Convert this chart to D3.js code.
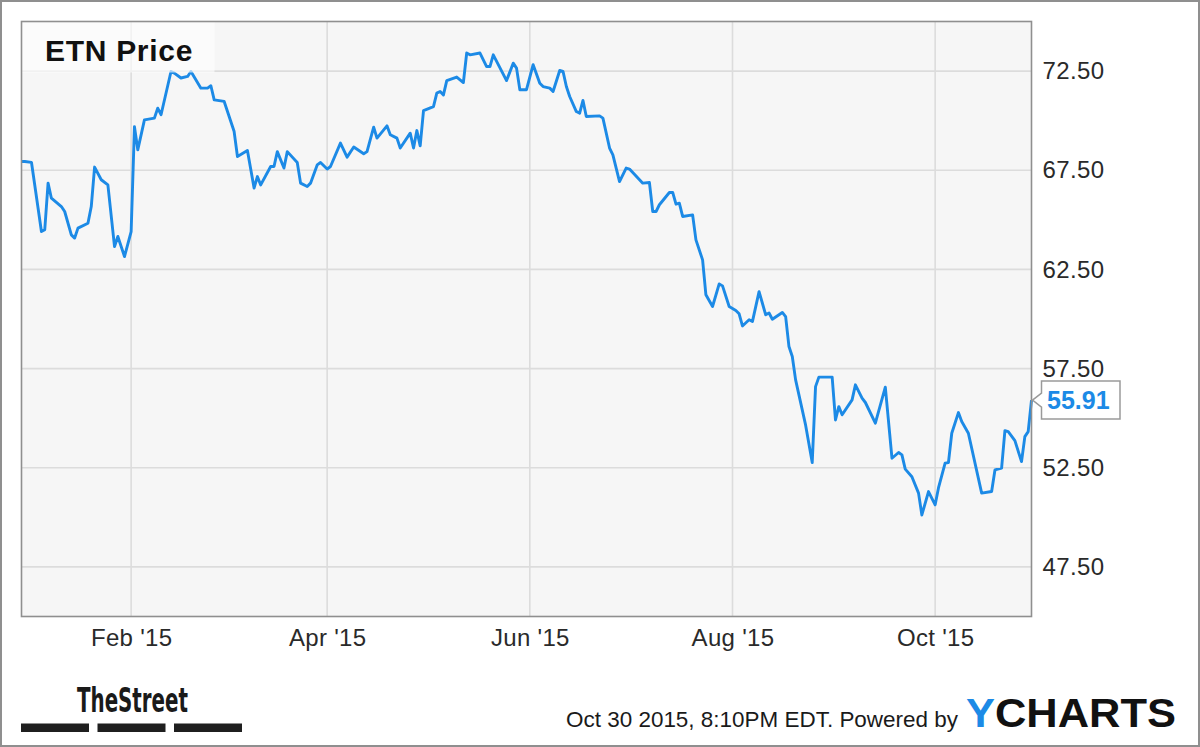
<!DOCTYPE html>
<html>
<head>
<meta charset="utf-8">
<script src="https://cdn.jsdelivr.net/npm/d3@7"></script>
<style>
  html, body { margin: 0; padding: 0; background: #fff; }
  svg { display: block; font-family: "Liberation Sans", Arial, sans-serif; }
</style>
</head>
<body>
<svg id="chart" width="1200" height="747"></svg>
<script>
// ETN closing prices
var dates = [
  '2014-12-30', '2014-12-31', '2015-01-02', '2015-01-05', '2015-01-06', '2015-01-07', '2015-01-08',
  '2015-01-11', '2015-01-12', '2015-01-14', '2015-01-15', '2015-01-16', '2015-01-19', '2015-01-20',
  '2015-01-21', '2015-01-23', '2015-01-25', '2015-01-27', '2015-01-28', '2015-01-30', '2015-02-01',
  '2015-02-02', '2015-02-03', '2015-02-05', '2015-02-08', '2015-02-09', '2015-02-10', '2015-02-13',
  '2015-02-14', '2015-02-16', '2015-02-18', '2015-02-19', '2015-02-22', '2015-02-24', '2015-02-25',
  '2015-02-26', '2015-03-01', '2015-03-04', '2015-03-05', '2015-03-08', '2015-03-10', '2015-03-11',
  '2015-03-12', '2015-03-15', '2015-03-16', '2015-03-17', '2015-03-19', '2015-03-20', '2015-03-23',
  '2015-03-24', '2015-03-26', '2015-03-27', '2015-03-29', '2015-03-30', '2015-04-01', '2015-04-02',
  '2015-04-05', '2015-04-07', '2015-04-09', '2015-04-12', '2015-04-13', '2015-04-15', '2015-04-16',
  '2015-04-19', '2015-04-20', '2015-04-22', '2015-04-23', '2015-04-26', '2015-04-27', '2015-04-28',
  '2015-04-29', '2015-04-30', '2015-05-03', '2015-05-04', '2015-05-05', '2015-05-06', '2015-05-07',
  '2015-05-10', '2015-05-12', '2015-05-13', '2015-05-14', '2015-05-17', '2015-05-19', '2015-05-20',
  '2015-05-21', '2015-05-25', '2015-05-27', '2015-05-28', '2015-05-29', '2015-05-31', '2015-06-02',
  '2015-06-04', '2015-06-05', '2015-06-07', '2015-06-08', '2015-06-10', '2015-06-11', '2015-06-12',
  '2015-06-13', '2015-06-15', '2015-06-16', '2015-06-17', '2015-06-18', '2015-06-22', '2015-06-23',
  '2015-06-25', '2015-06-26', '2015-06-28', '2015-06-30', '2015-07-01', '2015-07-05', '2015-07-07',
  '2015-07-08', '2015-07-09', '2015-07-10', '2015-07-13', '2015-07-14', '2015-07-15', '2015-07-16',
  '2015-07-17', '2015-07-20', '2015-07-21', '2015-07-23', '2015-07-24', '2015-07-26', '2015-07-28',
  '2015-07-29', '2015-07-31', '2015-08-02', '2015-08-03', '2015-08-04', '2015-08-06', '2015-08-07',
  '2015-08-09', '2015-08-11', '2015-08-12', '2015-08-13', '2015-08-16', '2015-08-17', '2015-08-18',
  '2015-08-19', '2015-08-20', '2015-08-23', '2015-08-25', '2015-08-26', '2015-08-27', '2015-08-31',
  '2015-09-01', '2015-09-02', '2015-09-03', '2015-09-06', '2015-09-07', '2015-09-09', '2015-09-10',
  '2015-09-13', '2015-09-16', '2015-09-18', '2015-09-20', '2015-09-21', '2015-09-22', '2015-09-24',
  '2015-09-26', '2015-09-27', '2015-09-29', '2015-10-01', '2015-10-02', '2015-10-04', '2015-10-05',
  '2015-10-06', '2015-10-08', '2015-10-09', '2015-10-11', '2015-10-15', '2015-10-18', '2015-10-19',
  '2015-10-21', '2015-10-22', '2015-10-23', '2015-10-25', '2015-10-27', '2015-10-28', '2015-10-29',
  '2015-10-30'
]
var prices = [
  67.94, 67.94, 67.90, 64.41, 64.50, 66.85, 66.09,
  65.67, 65.42, 64.24, 64.08, 64.58, 64.83, 65.67,
  67.66, 67.02, 66.76, 63.65, 64.16, 63.15, 64.41,
  69.70, 68.53, 70.04, 70.13, 70.63, 70.30, 72.48,
  72.40, 72.15, 72.23, 72.48, 71.64, 71.64, 71.76,
  71.05, 70.97, 69.45, 68.19, 68.49, 66.60, 67.18,
  66.76, 67.69, 67.69, 68.44, 67.61, 68.44, 67.89,
  66.85, 66.68, 66.85, 67.77, 67.89, 67.56, 67.69,
  68.87, 68.16, 68.67, 68.33, 68.44, 69.67, 69.12,
  69.74, 69.29, 69.12, 68.62, 69.37, 68.62, 69.50,
  68.73, 70.51, 70.71, 71.39, 71.47, 71.30, 72.02,
  72.20, 71.92, 73.41, 73.32, 73.41, 72.73, 72.73,
  73.32, 72.02, 72.90, 72.65, 71.56, 71.56, 72.82,
  71.89, 71.72, 71.64, 71.47, 72.53, 72.48, 71.72,
  71.22, 70.46, 70.38, 71.02, 70.21, 70.24, 70.13,
  68.62, 68.28, 66.93, 67.61, 67.56, 66.85, 66.88,
  65.42, 65.42, 65.76, 66.38, 66.38, 65.79, 65.84,
  65.17, 65.25, 63.99, 62.98, 61.22, 60.63, 61.77,
  61.67, 60.63, 60.43, 60.26, 59.65, 59.96, 59.87,
  61.38, 60.21, 60.30, 59.99, 60.33, 60.12, 58.61,
  58.11, 56.93, 54.66, 52.76, 56.59, 57.07, 57.07,
  54.91, 55.58, 55.17, 55.92, 56.68, 56.01, 55.79,
  54.75, 56.56, 52.98, 53.27, 53.15, 52.43, 52.05,
  51.22, 50.12, 51.30, 50.63, 51.48, 52.73, 52.76,
  54.24, 55.28, 54.83, 54.24, 51.22, 51.30, 52.39,
  52.48, 54.37, 54.32, 53.87, 52.81, 54.07, 54.32,
  55.91
]
var yTicks = [47.5, 52.5, 57.5, 62.5, 67.5, 72.5]
var xTickMonths = ['2015-02-01', '2015-04-01', '2015-06-01', '2015-08-01', '2015-10-01']
var title = 'ETN Price'
var stamp = 'Oct 30 2015, 8:10PM EDT.  Powered by'

var colorLine = '#1c8ae6'
var colorPlot = '#f6f6f6'
var colorGrid = '#dcdcdc'
var colorFrame = '#8f8f8f'

var W = 1200, H = 747
var plot = { left: 21.5, top: 21.5, right: 1031.5, bottom: 616.5 }

var parse = d3.timeParse('%Y-%m-%d')
var data = dates.map(function (d, i) {
    return { date: parse(d), value: prices[i] }
})

var svg = d3.select('#chart')

var x = d3.scaleTime()
    .domain([parse('2014-12-30'), parse('2015-10-30')])
    .range([plot.left, plot.right])
var y = d3.scaleLinear()
    .domain([45, 75])
    .range([plot.bottom, plot.top])

// outer frame
svg.append('rect')
    .attr('x', 1).attr('y', 1)
    .attr('width', W - 2).attr('height', H - 2)
    .attr('fill', '#fff')
    .attr('stroke', colorFrame)
    .attr('stroke-width', 2)

// plot background
svg.append('rect')
    .attr('x', plot.left).attr('y', plot.top)
    .attr('width', plot.right - plot.left).attr('height', plot.bottom - plot.top)
    .attr('fill', colorPlot)

// grid
var xTicks = xTickMonths.map(parse)
svg.append('g').selectAll('line')
    .data(yTicks)
    .join('line')
    .attr('x1', plot.left).attr('x2', plot.right)
    .attr('y1', function (d) { return y(d) }).attr('y2', function (d) { return y(d) })
    .attr('stroke', colorGrid).attr('stroke-width', 1.6)
svg.append('g').selectAll('line')
    .data(xTicks)
    .join('line')
    .attr('y1', plot.top).attr('y2', plot.bottom)
    .attr('x1', function (d) { return x(d) }).attr('x2', function (d) { return x(d) })
    .attr('stroke', colorGrid).attr('stroke-width', 1.6)

// price line
var line = d3.line()
    .x(function (d) { return x(d.date) })
    .y(function (d) { return y(d.value) })
svg.append('path')
    .datum(data)
    .attr('d', line)
    .attr('fill', 'none')
    .attr('stroke', colorLine)
    .attr('stroke-width', 2.9)
    .attr('stroke-linejoin', 'round')

// title box (semi transparent, sits over the line)
svg.append('rect')
    .attr('x', plot.left).attr('y', plot.top)
    .attr('width', 193).attr('height', 51)
    .attr('fill', '#fff').attr('fill-opacity', 0.6)
svg.append('text')
    .attr('x', 45).attr('y', 60.5)
    .attr('font-size', 30).attr('font-weight', 'bold')
    .attr('letter-spacing', 0.7)
    .attr('fill', '#111')
    .text(title)

// plot frame
svg.append('rect')
    .attr('x', plot.left).attr('y', plot.top)
    .attr('width', plot.right - plot.left).attr('height', plot.bottom - plot.top)
    .attr('fill', 'none')
    .attr('stroke', colorFrame).attr('stroke-width', 1.6)

// y axis labels on the right
var yAxis = svg.append('g')
    .attr('transform', 'translate(' + plot.right + ',0)')
    .call(d3.axisRight(y).tickValues(yTicks).tickFormat(d3.format('.2f')).tickSize(0).tickPadding(11))
yAxis.select('.domain').remove()
yAxis.selectAll('text')
    .attr('font-size', 24).attr('font-family', '"Liberation Sans", Arial, sans-serif')
    .attr('letter-spacing', 0.4)
    .attr('fill', '#2a2a2a')

// x axis labels
var xAxis = svg.append('g')
    .attr('transform', 'translate(0,' + plot.bottom + ')')
    .call(d3.axisBottom(x).tickValues(xTicks).tickFormat(d3.timeFormat("%b '%y")).tickSize(0).tickPadding(12))
xAxis.select('.domain').remove()
xAxis.selectAll('text')
    .attr('font-size', 24).attr('font-family', '"Liberation Sans", Arial, sans-serif')
    .attr('letter-spacing', 0.3)
    .attr('fill', '#2a2a2a')

// last price callout
var last = data[data.length - 1]
var ly = y(last.value)
var bx0 = 1041.5, bx1 = 1120, bh = 38
var callout = d3.path()
callout.moveTo(plot.right + 1, ly)
callout.lineTo(bx0, ly - 7)
callout.lineTo(bx0, ly - bh / 2)
callout.lineTo(bx1, ly - bh / 2)
callout.lineTo(bx1, ly + bh / 2)
callout.lineTo(bx0, ly + bh / 2)
callout.lineTo(bx0, ly + 7)
callout.closePath()
svg.append('path')
    .attr('d', callout.toString())
    .attr('fill', '#fff')
    .attr('stroke', '#9a9a9a')
    .attr('stroke-width', 1.5)
svg.append('text')
    .attr('x', 1047).attr('y', ly + 9)
    .attr('font-size', 25).attr('font-weight', 'bold')
    .attr('fill', colorLine)
    .text(d3.format('.2f')(last.value))

// footer: TheStreet logo
svg.append('text')
    .attr('x', 77).attr('y', 711.5)
    .attr('font-family', '"Liberation Sans Narrow", "DejaVu Sans Condensed", sans-serif')
    .attr('font-size', 33).attr('font-weight', 'bold')
    .attr('textLength', 111).attr('lengthAdjust', 'spacingAndGlyphs')
    .attr('fill', '#1a1a1a')
    .text('TheStreet')
svg.append('g').selectAll('rect')
    .data([21, 97.5, 174])
    .join('rect')
    .attr('x', function (d) { return d }).attr('y', 723.5)
    .attr('width', 68).attr('height', 8.5)
    .attr('fill', '#1f1f1f')

// footer: timestamp + YCHARTS
svg.append('text')
    .attr('x', 958).attr('y', 727)
    .attr('text-anchor', 'end')
    .attr('font-size', 22)
    .attr('textLength', 392).attr('lengthAdjust', 'spacingAndGlyphs')
    .attr('fill', '#1a1a1a')
    .text(stamp)
var logo = svg.append('text')
    .attr('x', 966).attr('y', 727)
    .attr('font-size', 40).attr('font-weight', 'bold')
    .attr('textLength', 210).attr('lengthAdjust', 'spacingAndGlyphs')
    .attr('fill', '#111')
logo.append('tspan').attr('fill', colorLine).text('Y')
logo.append('tspan').text('CHARTS')
</script>
</body>
</html>
